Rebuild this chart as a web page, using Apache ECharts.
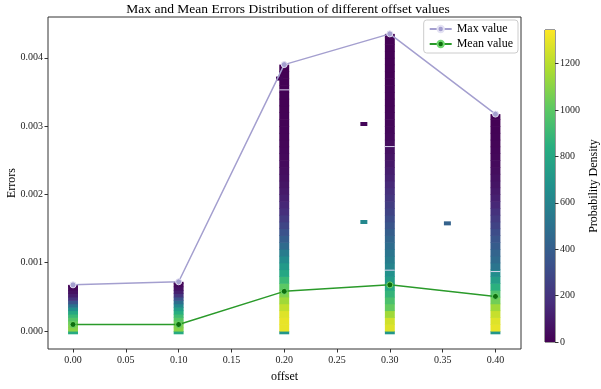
<!DOCTYPE html>
<html>
<head>
<meta charset="utf-8">
<script src="https://cdn.jsdelivr.net/npm/echarts@6/dist/echarts.min.js"></script>
<style>html,body{margin:0;padding:0;background:#fff}#c{width:601px;height:389px}</style>
</head>
<body>
<div id="c"></div>
<script>
// ---- data ----
const offsets = [0.00, 0.10, 0.20, 0.30, 0.40];
const maxValues = [0.000675, 0.00072, 0.0039, 0.00435, 0.003175];
const meanValues = [0.000095, 0.000095, 0.00058, 0.000675, 0.000506];
// density strips: bins of binSteps[k] starting at 0, last bin capped at the max value;
// one extra bin below zero (bottomEdge..0)
const binSteps = [0.00005, 0.00005, 0.0001, 0.0001, 0.0001];
const bottomEdge = -0.00004;
const bottomDensity = [820, 820, 700, 700, 700];
const density000 = [1100,1080,1040,980,900,800,660,500,340,200,110,60,30,15];
const density010 = [1100,1080,1040,990,920,840,740,620,480,340,210,120,60,30,15];
const density020 = [1300,1300,1280,1220,1150,1080,1000,900,800,720,640,560,470,400,340,280,230,180,150,120,95,75,60,48,38,30,24,19,15,12,10,8,6,5,4,3,3,2,2];
const density030 = [1280,1250,1150,1020,950,880,800,730,670,600,560,520,480,440,400,350,310,270,240,210,180,155,130,110,90,75,60,45,35,28,22,18,14,11,9,7,6,5,4,3,3,2,2,1];
const density040 = [1300,1280,1230,1150,1050,960,850,740,650,520,470,430,390,350,310,270,230,190,150,120,95,75,60,45,35,27,20,15,11,8,5,3];
const densities = [density000, density010, density020, density030, density040];
// isolated cells: [offset, error, density]
const strayCells = [[0.1955, 0.0037, 20], [0.2754, 0.003035, 20], [0.2754, 0.0016, 620], [0.3545, 0.00158, 420]];
// thin light seams across strips: [offset, error]
const seams = [[0.20, 0.00353], [0.30, 0.0027], [0.30, 0.00089], [0.40, 0.00087]];
const colorbarTicks = [0, 200, 400, 600, 800, 1000, 1200];
const densityMax = 1345;
const xTicks = [0, 0.05, 0.10, 0.15, 0.20, 0.25, 0.30, 0.35, 0.40];
const yTicks = [0, 0.001, 0.002, 0.003, 0.004];

// ---- build ----
const viridis = ['#440154','#472d7b','#3b528b','#2c728e','#21918c','#28ae80','#5ec962','#addc30','#fde725'];
const stripData = [];
offsets.forEach((x, k) => {
  stripData.push([x, bottomEdge, 0, bottomDensity[k]]);
  const step = binSteps[k];
  densities[k].forEach((d, i) => {
    const lo = i * step;
    const hi = Math.min((i + 1) * step, maxValues[k]);
    stripData.push([x, lo, hi, d]);
  });
});
const strayData = strayCells.map(c => [c[0], c[1] - 0.000025, c[1] + 0.000025, c[2]]);
const STRIP_HALF = 0.0047;

function cellRenderer(halfW) {
  return function (params, api) {
    const p0 = api.coord([api.value(0) - halfW, api.value(1)]);
    const p1 = api.coord([api.value(0) + halfW, api.value(2)]);
    return {
      type: 'rect',
      shape: { x: p0[0], y: p1[1], width: p1[0] - p0[0], height: p0[1] - p1[1] + 0.6 },
      style: { fill: api.visual('color') }
    };
  };
}

const font = 'Liberation Serif';
const chart = echarts.init(document.getElementById('c'), null, { renderer: 'canvas' });
chart.setOption({
  animation: false,
  textStyle: { fontFamily: font },
  title: {
    text: 'Max and Mean Errors Distribution of different offset values',
    left: 283, textAlign: 'center', top: -3,
    textStyle: { fontFamily: font, fontSize: 13.5, fontWeight: 'normal', color: '#000' }
  },
  legend: {
    orient: 'vertical', right: 83, top: 20,
    backgroundColor: '#fff', borderColor: '#ccc', borderWidth: 1, borderRadius: 3,
    padding: [3, 5, 3, 5], itemGap: 3, itemWidth: 22, itemHeight: 8,
    textStyle: { fontFamily: font, fontSize: 12, color: '#000' },
    data: ['Max value', 'Mean value']
  },
  visualMap: {
    type: 'continuous', show: false, min: 0, max: densityMax, dimension: 3,
    seriesIndex: [0, 1], inRange: { color: viridis }
  },
  grid: [
    { left: 48, right: 80, top: 17, bottom: 40, show: true, borderColor: '#333', borderWidth: 1, backgroundColor: 'transparent', outerBoundsMode: 'none', containLabel: false },
    { left: 545, width: 10, top: 30, bottom: 47, show: true, borderColor: '#333', borderWidth: 1, backgroundColor: 'transparent', outerBoundsMode: 'none', containLabel: false }
  ],
  xAxis: [
    {
      type: 'value', gridIndex: 0, min: -0.0237, max: 0.4242,
      name: 'offset', nameLocation: 'middle', nameGap: 22, nameMoveOverlap: false,
      nameTextStyle: { fontFamily: font, fontSize: 12, color: '#000' },
      axisLine: { show: false, onZero: false }, splitLine: { show: false },
      axisTick: { show: true, length: 3.5, customValues: xTicks, lineStyle: { color: '#333' } },
      axisLabel: { customValues: xTicks, fontFamily: font, fontSize: 10, color: '#222', margin: 6, formatter: v => v.toFixed(2) }
    },
    { type: 'value', gridIndex: 1, min: 0, max: 1, show: false, axisLine: { onZero: false } }
  ],
  yAxis: [
    {
      type: 'value', gridIndex: 0, min: -0.000264, max: 0.004597,
      name: 'Errors', nameLocation: 'middle', nameGap: 30, nameMoveOverlap: false,
      nameTextStyle: { fontFamily: font, fontSize: 12, color: '#000' },
      axisLine: { show: false, onZero: false }, splitLine: { show: false },
      axisTick: { show: true, length: 3.5, customValues: yTicks, lineStyle: { color: '#333' } },
      axisLabel: { customValues: yTicks, fontFamily: font, fontSize: 10, color: '#222', margin: 5, formatter: v => v.toFixed(3) }
    },
    {
      type: 'value', gridIndex: 1, min: 0, max: densityMax, position: 'right',
      name: 'Probability Density', nameLocation: 'middle', nameGap: 33, nameRotate: 90, nameMoveOverlap: false,
      nameTextStyle: { fontFamily: font, fontSize: 12, color: '#000' },
      axisLine: { show: false, onZero: false }, splitLine: { show: false },
      axisTick: { show: true, length: 3.5, customValues: colorbarTicks, lineStyle: { color: '#333' } },
      axisLabel: { customValues: colorbarTicks, fontFamily: font, fontSize: 10, color: '#222', margin: 5, formatter: v => String(v) }
    }
  ],
  series: [
    {
      type: 'custom', xAxisIndex: 0, yAxisIndex: 0, renderItem: cellRenderer(STRIP_HALF),
      encode: { x: 0, y: [1, 2] }, data: stripData, z: 1, silent: true
    },
    {
      type: 'custom', xAxisIndex: 0, yAxisIndex: 0, renderItem: cellRenderer(0.0033),
      encode: { x: 0, y: [1, 2] }, data: strayData, z: 1, silent: true
    },
    {
      type: 'custom', xAxisIndex: 0, yAxisIndex: 0, z: 2, silent: true,
      encode: { x: 0, y: 1 }, data: seams,
      renderItem: function (params, api) {
        const a = api.coord([api.value(0) - STRIP_HALF, api.value(1)]);
        const b = api.coord([api.value(0) + STRIP_HALF, api.value(1)]);
        return { type: 'line', shape: { x1: a[0], y1: a[1], x2: b[0], y2: b[1] }, style: { stroke: '#d9d5ee', lineWidth: 1 } };
      }
    },
    {
      name: 'Max value', type: 'line', xAxisIndex: 0, yAxisIndex: 0, z: 5,
      data: offsets.map((x, i) => [x, maxValues[i]]),
      symbol: 'circle', symbolSize: 6,
      lineStyle: { color: '#a49fcf', width: 1.5 },
      itemStyle: { color: '#a49fcf', borderColor: '#e4e2f3', borderWidth: 1 }
    },
    {
      name: 'Mean value', type: 'line', xAxisIndex: 0, yAxisIndex: 0, z: 5,
      data: offsets.map((x, i) => [x, meanValues[i]]),
      symbol: 'circle', symbolSize: 6,
      lineStyle: { color: '#2a9a2a', width: 1.5 },
      itemStyle: { color: '#0e6e0e', borderColor: '#6fd86f', borderWidth: 1 }
    },
    {
      type: 'custom', xAxisIndex: 1, yAxisIndex: 1, silent: true,
      data: [[0, 0, densityMax]],
      renderItem: function (params, api) {
        const top = api.coord([0, api.value(2)]);
        const bot = api.coord([0, api.value(1)]);
        const cs = params.coordSys;
        return {
          type: 'rect',
          shape: { x: cs.x, y: top[1], width: cs.width, height: bot[1] - top[1] },
          style: {
            fill: new echarts.graphic.LinearGradient(0, 1, 0, 0,
              viridis.map((c, i) => ({ offset: i / (viridis.length - 1), color: c })))
          }
        };
      }
    }
  ]
});
</script>
</body>
</html>
